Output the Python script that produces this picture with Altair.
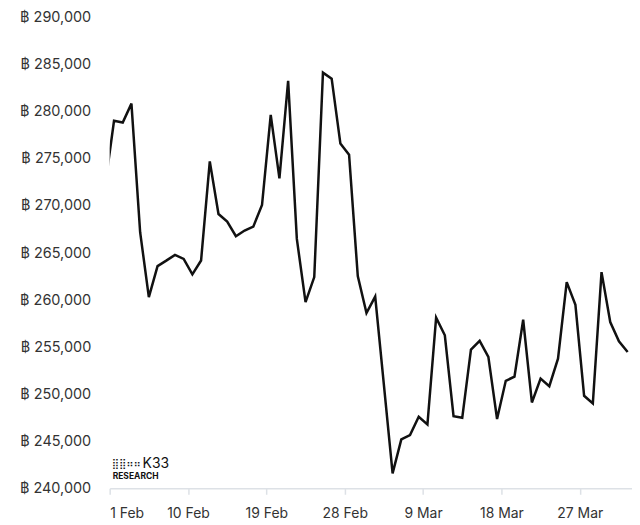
import altair as alt
import pandas as pd

# daily observations (timestamped at midday), first one falls before the visible range
start = "2023-01-31 12:00"
values = [
    272300, 279050, 278870, 280880, 267210, 260320, 263610, 264190, 264800, 264380,
    262730, 264210, 274740, 269150, 268340, 266790, 267390, 267810, 270100, 279690,
    272930, 283290, 266500, 259790, 262440, 284170, 283530, 276640, 275450, 262550,
    258620, 260370, 250990, 241590, 245190, 245660, 247600, 246780, 258130, 256260,
    247670, 247490, 254730, 255660, 253960, 247360, 251420, 251870, 257910, 249120,
    251660, 250850, 253780, 261910, 259500, 249830, 249010, 262970, 257670, 255620,
    254490,
]
dates = pd.date_range(start, periods=len(values), freq="D").strftime("%Y-%m-%dT%H:%M:%S")

tick_dates = [(2023, 2, 1), (2023, 2, 10), (2023, 2, 19), (2023, 2, 28),
              (2023, 3, 9), (2023, 3, 18), (2023, 3, 27)]
y_ticks = [240000, 245000, 250000, 255000, 260000, 265000, 270000, 275000,
           280000, 285000, 290000]

df = pd.DataFrame({"date": list(dates), "value": values})

FONT = "Inter"
LABEL_COLOR = "#333333"

line = alt.Chart(df).mark_line(color="#111111", strokeWidth=2.5, clip=True).encode(
    x=alt.X(
        "date:T",
        scale=alt.Scale(domain=[alt.DateTime(year=2023, month=2, date=1),
                                alt.DateTime(year=2023, month=4, date=2)]),
        axis=alt.Axis(
            title=None,
            values=[alt.DateTime(year=y, month=m, date=d) for (y, m, d) in tick_dates],
            format="%-d %b",
            grid=False,
            domainColor="#dde1e6",
            domainWidth=1.5,
            tickColor="#dde1e6",
            tickWidth=1.5,
            tickSize=6,
            labelPadding=12,
            labelFont=FONT,
            labelFontSize=14,
            labelColor=LABEL_COLOR,
        ),
    ),
    y=alt.Y(
        "value:Q",
        scale=alt.Scale(domain=[240000, 290000], nice=False, zero=False),
        axis=alt.Axis(
            title=None,
            values=y_ticks,
            labelExpr="'\u0e3f ' + format(datum.value, ',')",
            grid=False,
            domain=False,
            ticks=False,
            labelPadding=19,
            labelFont=FONT,
            labelFontSize=14.5,
            labelColor=LABEL_COLOR,
        ),
    ),
)

logo_df = pd.DataFrame({"t": ["K33"]})
logo_icon = alt.Chart(logo_df).mark_text(
    text="\u28ff\u28ff\u2836\u2836", font="DejaVu Sans", fontSize=10, align="left",
    baseline="alphabetic", color="#111111"
).encode(x=alt.value(2), y=alt.value(451))
logo_k33 = alt.Chart(logo_df).mark_text(
    font=FONT, fontSize=14, align="left", baseline="alphabetic", color="#111111"
).encode(x=alt.value(33), y=alt.value(452), text="t:N")
logo_res = alt.Chart(logo_df).mark_text(
    text="RESEARCH", font=FONT, fontSize=8.5, fontWeight="bold", align="left",
    baseline="alphabetic", color="#111111"
).encode(x=alt.value(3), y=alt.value(463))

chart = alt.layer(line, logo_icon, logo_k33, logo_res).properties(
    width=524,
    height=472,
    background="white",
    autosize=alt.AutoSizeParams(type="none"),
    padding={"left": 102, "top": 9, "right": 0, "bottom": 33},
).configure_view(stroke=None)

chart.save("out.html", embed_options={"renderer": "svg", "actions": False})
